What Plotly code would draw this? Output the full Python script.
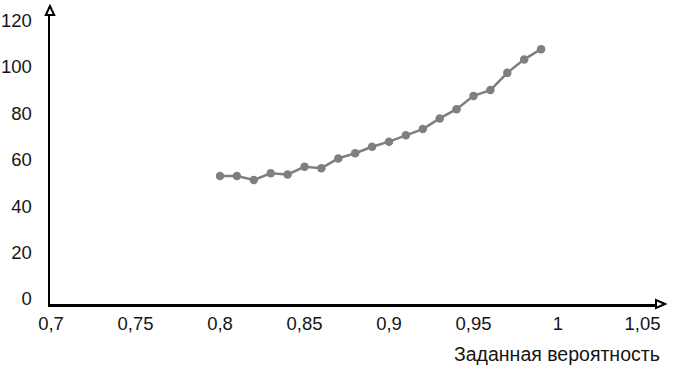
import plotly.graph_objects as go

x_vals = [0.80, 0.81, 0.82, 0.83, 0.84, 0.85, 0.86, 0.87, 0.88, 0.89,
          0.90, 0.91, 0.92, 0.93, 0.94, 0.95, 0.96, 0.97, 0.98, 0.99]
y_vals = [52.9, 52.9, 51.2, 54.1, 53.6, 56.9, 56.3, 60.5, 62.7, 65.5,
          67.7, 70.5, 73.1, 77.7, 81.7, 87.4, 89.9, 97.3, 103.1, 107.5]

x_ticks = [0.7, 0.75, 0.8, 0.85, 0.9, 0.95, 1.0, 1.05]
x_tick_labels = ["0,7", "0,75", "0,8", "0,85", "0,9", "0,95", "1", "1,05"]
y_ticks = [0, 20, 40, 60, 80, 100, 120]
x_title = "Заданная вероятность"

fig = go.Figure()
fig.add_trace(go.Scatter(
    x=x_vals, y=y_vals, mode="lines+markers",
    line=dict(color="#7f7f7f", width=2.5),
    marker=dict(color="#7f7f7f", size=8.5),
    showlegend=False, hoverinfo="skip",
))

txt = "#151515"
font = dict(family="Liberation Sans, Arial, sans-serif", size=18.5, color=txt)

fig.update_layout(
    width=682, height=376,
    margin=dict(l=50, r=26, t=15, b=72),
    plot_bgcolor="white", paper_bgcolor="white",
    font=font,
    xaxis=dict(range=[0.6994, 1.058], tickvals=x_ticks, ticktext=x_tick_labels,
               showgrid=False, zeroline=False, showline=True, automargin=False,
               linecolor="black", linewidth=2.5, ticks="", ticklabelstandoff=1),
    yaxis=dict(range=[-2.15, 122.2], tickvals=y_ticks,
               showgrid=False, zeroline=False, showline=True, automargin=False,
               linecolor="black", linewidth=2.5, ticks="", ticklabelstandoff=12),
    annotations=[dict(text=x_title, xref="paper", yref="paper", x=1.0, y=0,
                      xanchor="right", yanchor="middle", xshift=6, yshift=-50,
                      showarrow=False, font=dict(size=19.5, color=txt))],
    shapes=[
        dict(type="path", xref="paper", yref="paper", layer="above",
             path="M 0 1.031 L -0.0069 1.0 L 0.0069 1.0 Z",
             fillcolor="white", line=dict(color="black", width=2)),
        dict(type="path", xref="paper", yref="paper", layer="above",
             path="M 1.0149 0 L 1.0 0.0135 L 1.0 -0.0135 Z",
             fillcolor="white", line=dict(color="black", width=2)),
    ],
)

fig.write_html("out.html",
               config={"displayModeBar": False, "staticPlot": True},
               post_script="document.body.style.margin='0';document.body.style.overflow='hidden';")
